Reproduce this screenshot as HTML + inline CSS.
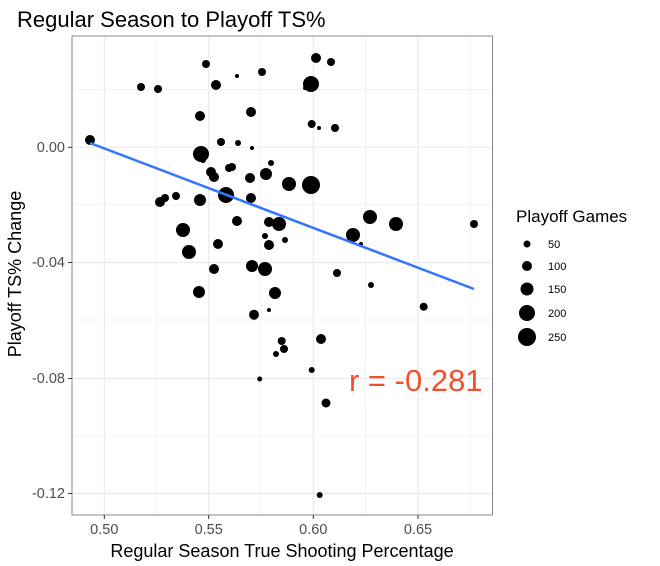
<!DOCTYPE html>
<html><head><style>body{margin:0;background:#fff}svg{display:block}</style></head><body>
<svg width="660" height="566" xmlns="http://www.w3.org/2000/svg" font-family="Liberation Sans, sans-serif">
<rect width="660" height="566" fill="#fff"/>
<g stroke="#ebebeb" stroke-width="0.6">
<line x1="72" x2="492" y1="89.6" y2="89.6"/><line x1="72" x2="492" y1="204.8" y2="204.8"/><line x1="72" x2="492" y1="320" y2="320"/><line x1="72" x2="492" y1="435.5" y2="435.5"/>
<line y1="36" y2="515" x1="156.5" x2="156.5"/><line y1="36" y2="515" x1="261" x2="261"/><line y1="36" y2="515" x1="365.5" x2="365.5"/><line y1="36" y2="515" x1="470" x2="470"/>
</g>
<g stroke="#ebebeb" stroke-width="1.2">
<line x1="72" x2="492" y1="147.3" y2="147.3"/><line x1="72" x2="492" y1="262.5" y2="262.5"/><line x1="72" x2="492" y1="378.5" y2="378.5"/><line x1="72" x2="492" y1="493.5" y2="493.5"/>
<line y1="36" y2="515" x1="104.3" x2="104.3"/><line y1="36" y2="515" x1="208.7" x2="208.7"/><line y1="36" y2="515" x1="313.3" x2="313.3"/><line y1="36" y2="515" x1="418" x2="418"/>
</g>
<g fill="#000">
<circle cx="90" cy="140" r="5"/><circle cx="141" cy="87" r="4"/><circle cx="158" cy="89" r="4"/>
<circle cx="206" cy="64" r="4"/><circle cx="216" cy="85" r="5"/><circle cx="237" cy="76" r="2"/><circle cx="262" cy="72" r="4"/>
<circle cx="316" cy="58" r="5"/><circle cx="331" cy="62" r="4"/><circle cx="311" cy="84" r="8"/><circle cx="305" cy="88" r="2"/>
<circle cx="200" cy="116" r="5"/><circle cx="251" cy="112" r="5"/>
<circle cx="221" cy="142" r="4"/><circle cx="238" cy="143" r="3"/><circle cx="252" cy="148" r="2"/>
<circle cx="201" cy="154" r="8"/><circle cx="203" cy="160" r="3"/>
<circle cx="229" cy="168" r="4"/><circle cx="232" cy="167" r="4"/>
<circle cx="211" cy="172" r="5"/><circle cx="214" cy="177" r="5"/>
<circle cx="250" cy="178" r="5"/><circle cx="266" cy="174" r="6"/><circle cx="271" cy="163" r="3"/>
<circle cx="289" cy="184" r="7"/><circle cx="311" cy="185" r="9"/>
<circle cx="226" cy="195" r="8"/>
<circle cx="160" cy="202" r="5"/><circle cx="165" cy="198" r="4"/><circle cx="176" cy="196" r="4"/>
<circle cx="200" cy="200" r="6"/><circle cx="251" cy="198" r="5"/>
<circle cx="237" cy="221" r="5"/><circle cx="269" cy="222" r="5"/><circle cx="279" cy="224" r="7"/>
<circle cx="265" cy="236" r="3"/><circle cx="285" cy="240" r="3"/><circle cx="269" cy="245" r="5"/>
<circle cx="183" cy="230" r="7"/><circle cx="189" cy="252" r="7"/><circle cx="218" cy="244" r="5"/>
<circle cx="214" cy="269" r="5"/><circle cx="252" cy="266" r="6"/><circle cx="265" cy="269" r="7"/>
<circle cx="199" cy="292" r="6"/><circle cx="275" cy="293" r="6"/>
<circle cx="311.7" cy="124" r="4"/><circle cx="319" cy="128" r="2"/><circle cx="335" cy="128" r="4"/>
<circle cx="353" cy="235" r="7"/><circle cx="370" cy="217" r="7"/><circle cx="396" cy="224" r="7"/><circle cx="361" cy="244" r="2"/>
<circle cx="337" cy="273" r="4"/><circle cx="371" cy="285" r="3"/><circle cx="474" cy="224" r="4"/><circle cx="423.7" cy="306.7" r="4"/>
<circle cx="254" cy="314.7" r="5"/><circle cx="269" cy="310" r="2"/><circle cx="281.7" cy="341" r="4"/><circle cx="284" cy="349" r="4"/>
<circle cx="276" cy="354" r="3"/><circle cx="321" cy="339" r="5"/><circle cx="311.7" cy="370" r="3"/><circle cx="259.7" cy="379" r="2.5"/>
<circle cx="326" cy="403" r="4.5"/><circle cx="319.7" cy="495" r="3"/>
</g>
<line x1="90" y1="143" x2="474" y2="289" stroke="#3377ff" stroke-width="2.5"/>
<rect x="72" y="36" width="420.5" height="479" fill="none" stroke="#888" stroke-width="1"/>
<g stroke="#333" stroke-width="1">
<line x1="68" x2="72" y1="147.3" y2="147.3"/><line x1="68" x2="72" y1="262.5" y2="262.5"/><line x1="68" x2="72" y1="378.5" y2="378.5"/><line x1="68" x2="72" y1="493.5" y2="493.5"/>
<line y1="515" y2="519" x1="104.3" x2="104.3"/><line y1="515" y2="519" x1="208.7" x2="208.7"/><line y1="515" y2="519" x1="313.3" x2="313.3"/><line y1="515" y2="519" x1="418" x2="418"/>
</g>
<g fill="#4d4d4d" font-size="14.5" text-anchor="end">
<text x="65" y="152">0.00</text><text x="65" y="267">-0.04</text><text x="65" y="383">-0.08</text><text x="65" y="498">-0.12</text>
</g>
<g fill="#4d4d4d" font-size="14.5" text-anchor="middle">
<text x="104.3" y="534">0.50</text><text x="208.7" y="534">0.55</text><text x="313.3" y="534">0.60</text><text x="418" y="534">0.65</text>
</g>
<text x="282" y="557" font-size="18" text-anchor="middle">Regular Season True Shooting Percentage</text>
<text transform="translate(21,274) rotate(-90)" font-size="18" text-anchor="middle">Playoff TS% Change</text>
<text x="17" y="27" font-size="22">Regular Season to Playoff TS%</text>
<text x="349" y="391" font-size="31" fill="#f0502e">r = -0.281</text>
<text x="516" y="222" font-size="17">Playoff Games</text>
<g fill="#000"><circle cx="527" cy="244" r="3.5"/><circle cx="527" cy="266" r="5"/><circle cx="527" cy="289" r="6.5"/><circle cx="527" cy="313" r="8"/><circle cx="527" cy="337" r="9"/></g>
<g font-size="11"><text x="548" y="248">50</text><text x="548" y="270">100</text><text x="548" y="293">150</text><text x="548" y="317">200</text><text x="548" y="341">250</text></g>
</svg>
</body></html>
